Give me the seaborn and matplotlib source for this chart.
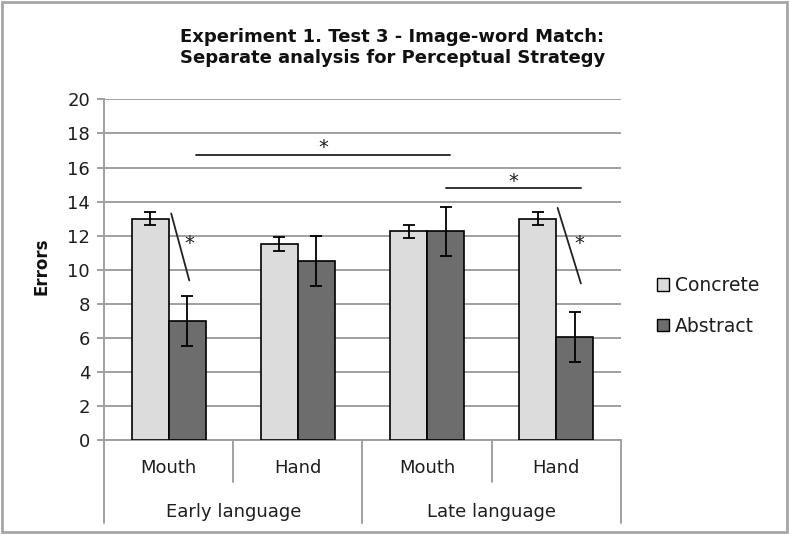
import matplotlib
matplotlib.use("Agg")
import matplotlib.pyplot as plt
import seaborn as sns
import pandas as pd
from matplotlib.patches import Patch, Rectangle

# ---- data ----
conditions = ["Early Mouth", "Early Hand", "Late Mouth", "Late Hand"]
strategy_labels = ["Mouth", "Hand", "Mouth", "Hand"]
language_labels = ["Early language", "Late language"]
series = ["Concrete", "Abstract"]
concrete = [13.0, 11.5, 12.25, 13.0]
abstract = [7.0, 10.5, 12.25, 6.05]
concrete_err = [0.4, 0.4, 0.38, 0.4]
abstract_err = [1.45, 1.47, 1.46, 1.47]
title = "Experiment 1. Test 3 - Image-word Match:\nSeparate analysis for Perceptual Strategy"
y_ticks = list(range(0, 21, 2))

df = pd.DataFrame({
    "cond": conditions * 2,
    "type": ["Concrete"] * 4 + ["Abstract"] * 4,
    "errors": concrete + abstract,
})

sns.set_theme(style="white")
plt.rcParams['font.family'] = ['DejaVu Sans']

TXT = "#1e1e1e"
GRID = "#a0a0a0"

fig = plt.figure(figsize=(7.89, 5.34), dpi=100)
ax = fig.add_axes([0.1318, 0.176, 0.6552, 0.6378])

sns.barplot(data=df, x="cond", y="errors", hue="type", order=conditions,
            hue_order=series, palette=["#dcdcdc", "#6d6d6d"], width=0.573,
            gap=0, edgecolor="black", linewidth=1.2, errorbar=None,
            legend=False, ax=ax, zorder=3)

errs = [concrete_err, abstract_err]
vals = [concrete, abstract]
for cont, e, v in zip(ax.containers, errs, vals):
    xs = [p.get_x() + p.get_width() / 2 for p in cont.patches]
    ax.errorbar(xs, v, yerr=e, fmt="none", ecolor="black", elinewidth=1.3,
                capsize=4.5, capthick=1.3, zorder=4)

ax.set_xlim(-0.5, 3.5)
ax.set_ylim(0, 20)
ax.set_yticks(y_ticks)
ax.set_yticklabels([str(t) for t in y_ticks], fontsize=13, color=TXT)
ax.yaxis.grid(True, color=GRID, linewidth=1.4)
ax.set_axisbelow(True)
ax.set_xlabel("")
ax.set_ylabel("")
ax.set_xticks([])
for s in ["top", "right"]:
    ax.spines[s].set_visible(False)
for s in ["left", "bottom"]:
    ax.spines[s].set_color(GRID)
    ax.spines[s].set_linewidth(1.4)
ax.tick_params(axis="y", which="both", left=True, length=5, width=1.4,
               color=GRID, pad=5, direction="out")

# two-level category axis
tr = ax.get_xaxis_transform()
for xd in [0.5, 2.5]:
    ax.plot([xd, xd], [0, -0.123], transform=tr, color=GRID, lw=1.4, clip_on=False)
for xd in [-0.5, 1.5, 3.5]:
    ax.plot([xd, xd], [0, -0.244], transform=tr, color=GRID, lw=1.4, clip_on=False)
for i, lab in enumerate(strategy_labels):
    ax.text(i, -0.082, lab, transform=tr, ha="center", va="center", fontsize=13, color=TXT)
for i, lab in enumerate(language_labels):
    ax.text(0.5 + 2 * i, -0.211, lab, transform=tr, ha="center", va="center", fontsize=13, color=TXT)

# significance annotations
ax.plot([0.21, 2.18], [16.75, 16.75], color="#333333", lw=1.4, clip_on=False)
ax.text(1.2, 17.15, "*", ha="center", va="center", fontsize=14, color=TXT)
ax.plot([2.15, 3.19], [14.8, 14.8], color="#333333", lw=1.4, clip_on=False)
ax.text(2.67, 15.2, "*", ha="center", va="center", fontsize=14, color=TXT)
ax.plot([0.02, 0.16], [13.3, 9.37], color="#222222", lw=1.3)
ax.text(0.16, 11.55, "*", ha="center", va="center", fontsize=14, color=TXT)
ax.plot([3.01, 3.19], [13.63, 9.2], color="#222222", lw=1.3)
ax.text(3.18, 11.55, "*", ha="center", va="center", fontsize=14, color=TXT)

# titles
fig.text(0.4975, 0.911, title, ha="center", va="center", fontsize=13,
         fontweight="bold", linespacing=1.15, color="#111111")
fig.text(0.053, 0.502, "Errors", rotation=90, ha="center", va="center",
         fontsize=12, fontweight="bold", color="#111111")

handles = [Patch(facecolor="#dcdcdc", edgecolor="black", lw=1.0),
           Patch(facecolor="#6d6d6d", edgecolor="black", lw=1.0)]
fig.legend(handles, series, loc="center left", bbox_to_anchor=(0.811, 0.427),
           frameon=False, handlelength=0.65, handleheight=0.65, handletextpad=0.33,
           labelspacing=1.15, fontsize=13.5, labelcolor=TXT)

fig.patches.append(Rectangle((0.002, 0.003), 0.996, 0.994, transform=fig.transFigure,
                             fill=False, edgecolor="#a6a6a6", lw=2))

fig.savefig("out.png", dpi=100)
